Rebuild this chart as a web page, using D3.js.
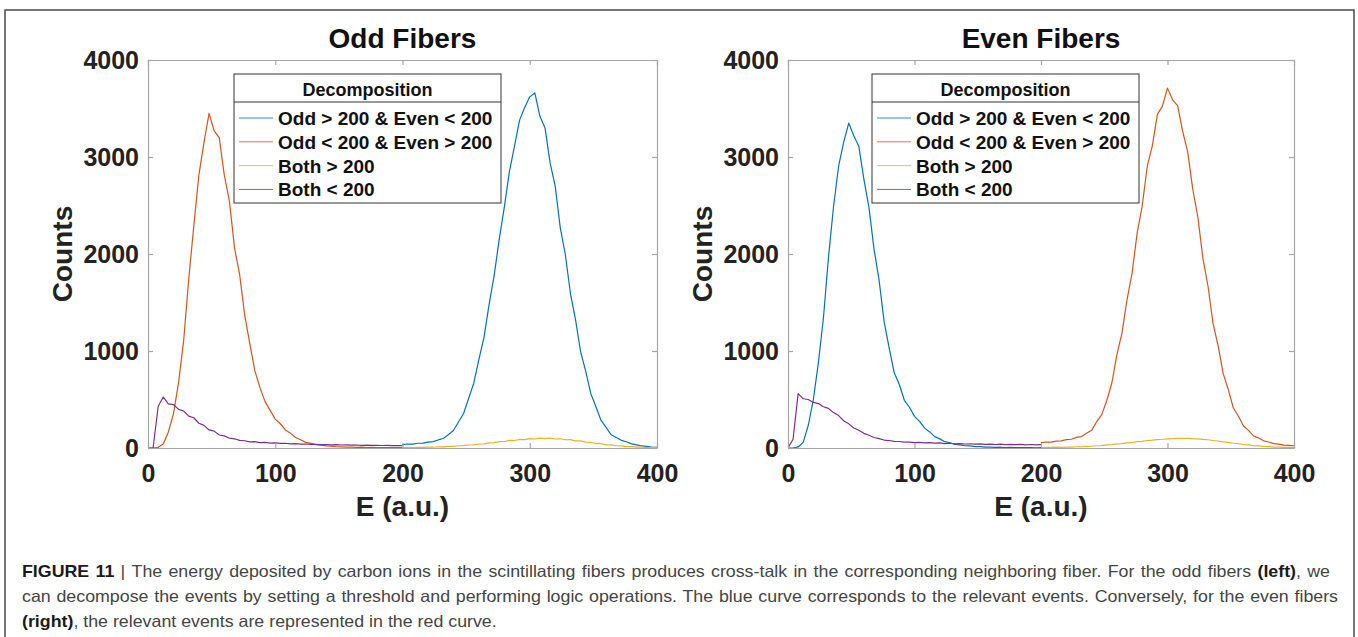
<!DOCTYPE html>
<html><head><meta charset="utf-8">
<script src="https://cdn.jsdelivr.net/npm/d3@7"></script>
<style>
body{margin:0;background:#fff;}
svg{display:block;font-family:"Liberation Sans",Arial,sans-serif;}
</style></head>
<body>
<script>
// ---------- data ----------
const energyLow  = d3.range(0, 201, 4);    // bins 0..200
const energyHigh = d3.range(200, 401, 4);  // bins 200..400
const xTicks = [0, 100, 200, 300, 400];
const yTicks = [0, 1000, 2000, 3000, 4000];
const seriesNames = ["Odd > 200 & Even < 200", "Odd < 200 & Even > 200", "Both > 200", "Both < 200"];
const seriesColors = ["#0072BD", "#D95319", "#EDB120", "#7E2F8E"];
const panelTitles = ["Odd Fibers", "Even Fibers"];

// Odd fibers panel
const oddBlue = [35,41,40,49,51,61,66,83,98,137,181,268,356,512,668,912,1138,1475,1776,2150,2480,2850,3110,3380,3510,3620,3660,3420,3300,2940,2700,2270,1990,1590,1320,990,790,560,425,285,212,136,108,79,64,43,33,21,16,9,7];
const oddRed = [0,0,7,42,166,352,672,1105,1740,2290,2815,3150,3450,3270,3200,2810,2545,2060,1790,1370,1075,795,622,478,388,298,250,186,153,108,85,58,48,34,29,21,19,13,12,9,10,7,8,5,6,4,5,3,4,3,3];
const oddYellow = [4,6,5,7,6,9,8,13,12,17,17,23,24,31,33,41,43,53,55,65,67,78,77,88,86,96,93,101,96,101,93,95,85,86,74,73,60,59,46,45,33,32,23,22,14,14,9,9,5,6,3];
const oddPurple = [0,0,430,525,455,448,398,381,328,312,255,233,186,174,134,125,101,95,78,75,64,65,56,58,51,53,47,49,43,46,40,41,37,38,35,36,33,34,31,32,29,31,28,29,27,28,26,27,25,26,24];

// Even fibers panel
const evenBlue = [0,0,11,58,232,496,878,1340,1965,2490,2905,3150,3350,3220,3110,2770,2480,2050,1730,1300,1030,775,655,492,420,326,275,205,166,117,94,65,54,38,33,23,21,15,14,10,10,7,8,5,6,4,5,3,4,2,3];
const evenRed = [55,60,60,70,73,86,90,109,118,151,182,270,344,490,670,962,1185,1530,1800,2215,2495,2905,3115,3440,3525,3710,3590,3530,3265,3050,2665,2380,1955,1670,1285,1055,770,605,415,330,230,182,124,104,74,62,45,40,29,28,23];
const evenYellow = [5,6,6,8,7,10,9,13,13,17,18,23,25,32,34,42,45,53,57,66,69,77,81,87,90,95,96,100,99,100,96,94,88,85,77,72,63,58,49,44,36,32,25,22,16,15,10,10,6,7,4];
const evenPurple = [0,90,560,508,500,470,458,425,408,365,334,281,249,206,183,151,132,108,97,82,77,69,67,60,60,55,57,52,55,50,52,46,49,43,46,41,44,39,42,37,40,36,39,35,38,34,37,33,36,33,35];

const captionLines = [
  [["FIGURE 11 ", true], ["| ", false], ["The energy deposited by carbon ions in the scintillating fibers produces cross-talk in the corresponding neighboring fiber. For the odd fibers ", false], ["(left)", true], [", we", false]],
  [["can decompose the events by setting a threshold and performing logic operations. The blue curve corresponds to the relevant events. Conversely, for the even fibers", false]],
  [["(right)", true], [", the relevant events are represented in the red curve.", false]]
];

// ---------- drawing ----------
const W = 1358, H = 637;
const svg = d3.select("body").append("svg").attr("width", W).attr("height", H);
svg.append("rect").attr("width", W).attr("height", H).attr("fill", "#fff");

// outer frame
svg.append("path").attr("d", `M5,${H+5} L5,10 L1354,10 L1354,${H+5}`)
  .attr("fill", "none").attr("stroke", "#4a4a4a").attr("stroke-width", 1.5);

const AXIS_COLOR = "#a6a6a6";
const TEXT_COLOR = "#222";

const panels = [
  { x0: 148, x1: 657, title: panelTitles[0], legendX: 234,
    series: [[energyHigh, oddBlue], [energyLow, oddRed], [energyHigh, oddYellow], [energyLow, oddPurple]] },
  { x0: 788, x1: 1294, title: panelTitles[1], legendX: 872,
    series: [[energyLow, evenBlue], [energyHigh, evenRed], [energyHigh, evenYellow], [energyLow, evenPurple]] }
];

const yTop = 60, yBot = 448;

panels.forEach((p, pi) => {
  const g = svg.append("g");
  const x = d3.scaleLinear().domain([0, 400]).range([p.x0, p.x1]);
  const y = d3.scaleLinear().domain([0, 4000]).range([yBot, yTop]);

  const clipId = "clip" + pi;
  svg.append("clipPath").attr("id", clipId).append("rect")
    .attr("x", p.x0).attr("y", yTop - 2).attr("width", p.x1 - p.x0).attr("height", yBot - yTop + 2);

  // curves
  const line = d3.line().x(d => x(d[0])).y(d => y(d[1]));
  p.series.forEach((s, si) => {
    const pts = s[0].map((e, i) => [e, s[1][i]]);
    g.append("path").attr("d", line(pts)).attr("fill", "none")
      .attr("stroke", seriesColors[si]).attr("stroke-width", 1.2)
      .attr("stroke-linejoin", "round")
      .attr("clip-path", `url(#${clipId})`);
  });

  // axes
  const styleAxis = sel => {
    sel.selectAll("path.domain").attr("stroke", AXIS_COLOR).attr("stroke-width", 1.2);
    sel.selectAll(".tick line").attr("stroke", AXIS_COLOR).attr("stroke-width", 1.2);
    sel.selectAll(".tick text").attr("fill", TEXT_COLOR)
      .attr("font-family", "'Liberation Sans', Arial, sans-serif")
      .attr("font-weight", "bold").attr("font-size", 25);
  };
  const fmt = d3.format("d");
  const bottom = g.append("g").attr("transform", `translate(0,${yBot})`)
    .call(d3.axisBottom(x).tickValues(xTicks).tickFormat(fmt).tickSizeInner(-5).tickSizeOuter(0).tickPadding(16));
  styleAxis(bottom);
  const top = g.append("g").attr("transform", `translate(0,${yTop})`)
    .call(d3.axisTop(x).tickValues(xTicks).tickSizeInner(-5).tickSizeOuter(0).tickFormat(""));
  styleAxis(top);
  const left = g.append("g").attr("transform", `translate(${p.x0},0)`)
    .call(d3.axisLeft(y).tickValues(yTicks).tickFormat(fmt).tickSizeInner(-5).tickSizeOuter(0).tickPadding(9));
  styleAxis(left);
  const right = g.append("g").attr("transform", `translate(${p.x1},0)`)
    .call(d3.axisRight(y).tickValues(yTicks).tickSizeInner(-5).tickSizeOuter(0).tickFormat(""));
  styleAxis(right);

  // title & axis labels
  const cx = (p.x0 + p.x1) / 2;
  g.append("text").attr("x", cx).attr("y", 48).attr("text-anchor", "middle")
    .attr("font-weight", "bold").attr("font-size", 28).attr("fill", "#111").text(p.title);
  g.append("text").attr("x", cx).attr("y", 516).attr("text-anchor", "middle")
    .attr("font-weight", "bold").attr("font-size", 28).attr("fill", TEXT_COLOR).text("E (a.u.)");
  g.append("text").attr("transform", `translate(${p.x0 - 76},${(yTop + yBot) / 2}) rotate(-90)`)
    .attr("text-anchor", "middle").attr("font-weight", "bold").attr("font-size", 28)
    .attr("fill", TEXT_COLOR).text("Counts");

  // legend
  const lx = p.legendX, ly = 74, lw = 267, lh = 129;
  const lg = g.append("g");
  lg.append("rect").attr("x", lx).attr("y", ly).attr("width", lw).attr("height", lh)
    .attr("fill", "#fff").attr("stroke", "#333").attr("stroke-width", 1);
  lg.append("line").attr("x1", lx).attr("x2", lx + lw).attr("y1", ly + 28).attr("y2", ly + 28)
    .attr("stroke", "#333").attr("stroke-width", 1);
  lg.append("text").attr("x", lx + lw / 2).attr("y", ly + 22).attr("text-anchor", "middle")
    .attr("font-weight", "bold").attr("font-size", 18).attr("fill", "#111").text("Decomposition");
  const rows = lg.selectAll("g.row").data(seriesNames).join("g").attr("class", "row")
    .attr("transform", (d, i) => `translate(${lx},${ly + 44 + i * 23.8})`);
  rows.append("line").attr("x1", 5).attr("x2", 39).attr("y1", 0).attr("y2", 0)
    .attr("stroke", (d, i) => seriesColors[i]).attr("stroke-width", 1).attr("opacity", 0.8);
  rows.append("text").attr("x", 44).attr("y", 7).attr("font-weight", "bold")
    .attr("font-size", 19).attr("fill", "#111").text(d => d);
});

// caption: condensed face (horizontal scale), justified lines 1-2, last line natural
const capY = [577, 602, 627];
const capRight = [1330, 1338];
const capX = 22;
const capG = svg.append("g");
const capTexts = captionLines.map((parts, li) => {
  const t = capG.append("text").attr("x", 0).attr("y", capY[li])
    .attr("font-size", 16.5).attr("fill", "#444");
  parts.forEach(([s, b]) => {
    t.append("tspan").attr("font-weight", b ? "bold" : "normal")
      .attr("fill", b ? "#1a1a1a" : "#444").text(s);
  });
  return t;
});
const w2 = capTexts[1].node().getComputedTextLength();
const sx = (capRight[1] - capX) / w2 * 0.985;
capG.attr("transform", `translate(${capX},0) scale(${sx},1)`);
capTexts.forEach((t, li) => {
  if (li < 2) {
    const w = t.node().getComputedTextLength();
    const spaces = captionLines[li].map(p => p[0]).join("").split(" ").length - 1;
    const ws = ((capRight[li] - capX) / sx - w) / spaces;
    t.attr("word-spacing", ws);
  }
});
</script>
</body></html>
